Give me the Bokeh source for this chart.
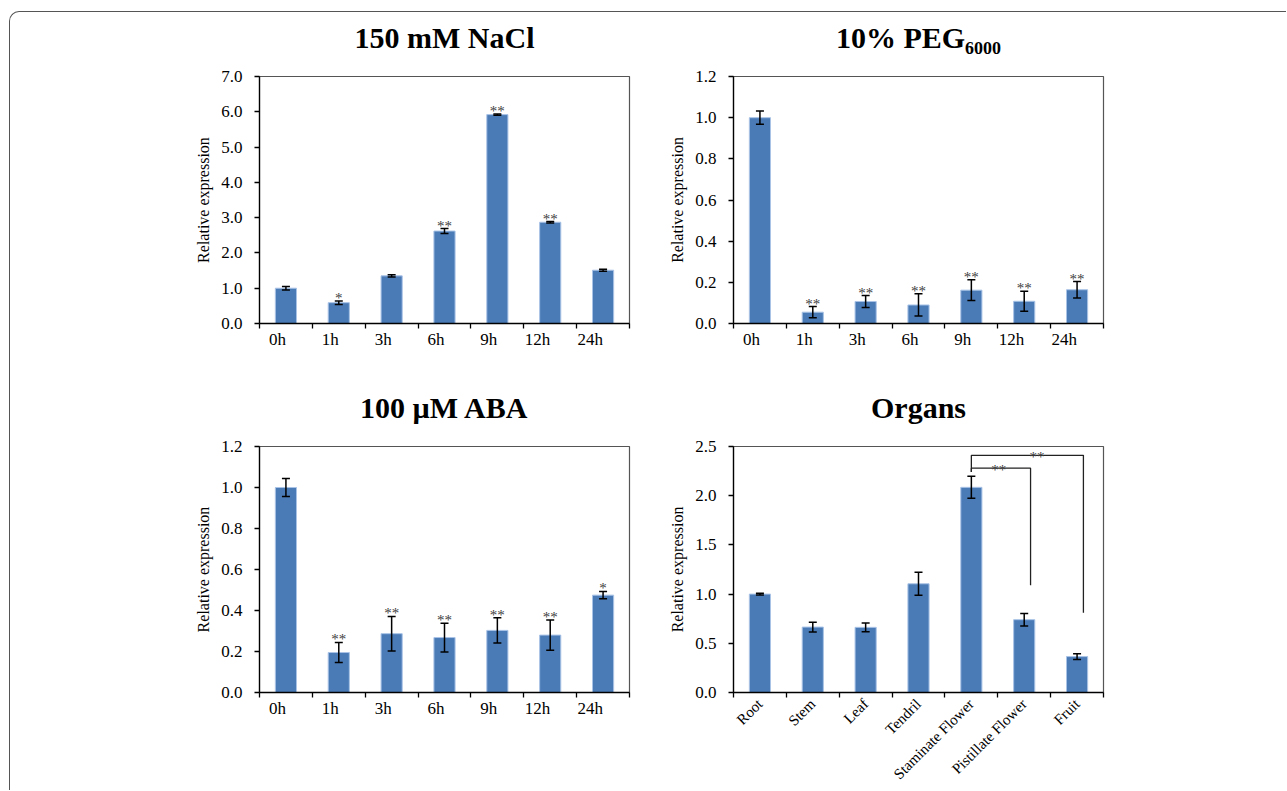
from math import pi
from bokeh.plotting import figure
from bokeh.models import (ColumnDataSource, Range1d, LinearAxis,
                          FixedTicker, NumeralTickFormatter, Whisker, TeeHead)
from bokeh.layouts import column, row
from bokeh.core.properties import value
from bokeh.embed import file_html
from bokeh.resources import INLINE

# ---------------- data ----------------
time_points = ["0h", "1h", "3h", "6h", "9h", "12h", "24h"]

nacl_mean = [1.00, 0.59, 1.35, 2.62, 5.92, 2.87, 1.51]
nacl_err = [0.05, 0.05, 0.03, 0.07, 0.02, 0.02, 0.03]
nacl_sig = ["", "*", "", "**", "**", "**", ""]
nacl_ticks = [0, 1, 2, 3, 4, 5, 6, 7]

peg_mean = [1.00, 0.055, 0.107, 0.090, 0.162, 0.108, 0.164]
peg_err = [0.032, 0.027, 0.029, 0.054, 0.050, 0.049, 0.040]
peg_sig = ["", "**", "**", "**", "**", "**", "**"]
peg_ticks = [0, 0.2, 0.4, 0.6, 0.8, 1.0, 1.2]

aba_mean = [1.00, 0.195, 0.287, 0.268, 0.303, 0.280, 0.475]
aba_err = [0.044, 0.049, 0.084, 0.070, 0.062, 0.074, 0.018]
aba_sig = ["", "**", "**", "**", "**", "**", "*"]
aba_ticks = [0, 0.2, 0.4, 0.6, 0.8, 1.0, 1.2]

organs = ["Root", "Stem", "Leaf", "Tendril", "Staminate Flower", "Pistillate Flower", "Fruit"]
organ_mean = [1.00, 0.665, 0.662, 1.105, 2.085, 0.740, 0.365]
organ_err = [0.008, 0.050, 0.045, 0.117, 0.112, 0.064, 0.029]
organ_sig = ["", "", "", "", "", "", ""]
organ_ticks = [0, 0.5, 1.0, 1.5, 2.0, 2.5]

# significance brackets in the organ panel
bracket_from = ["Staminate Flower", "Staminate Flower"]
bracket_to = ["Pistillate Flower", "Fruit"]
bracket_level = [2.28, 2.41]
bracket_from_end = [2.24, 2.24]
bracket_to_end = [1.09, 0.81]
bracket_text = ["**", "**"]
bracket_text_ref = ["Pistillate Flower", "Pistillate Flower"]
bracket_text_shift = [-0.48, 0.24]

# ---------------- style ----------------
SERIF = "Liberation Serif"
BAR = "#4a7bb7"
EDGE = "#a9c3e6"


def slot(cats, c):
    """centre of a category slot on the numeric x scale"""
    return cats.index(c) + 0.5


def make_panel(title, cats, means, errs, sigs, yticks, width, height,
               left, right, top, bottom, title_offset=0, label_angle=0.0,
               label_size="17px", label_standoff=11):
    n = len(cats)
    p = figure(x_range=Range1d(0, n), y_range=Range1d(yticks[0], yticks[-1]),
               width=width, height=height, x_axis_location=None,
               output_backend="svg", toolbar_location=None,
               min_border_left=left, min_border_right=right,
               min_border_top=top, min_border_bottom=bottom,
               title=title)
    p.title.text_font = SERIF
    p.title.text_font_size = "30px"
    p.title.text_font_style = "bold"
    p.title.text_color = "black"
    p.title.align = "center"
    p.title.standoff = 46
    p.title.offset = title_offset
    p.grid.visible = False
    p.outline_line_color = "#555555"
    p.outline_line_width = 1.2
    p.background_fill_color = "white"
    p.border_fill_color = None

    bounds = list(range(n + 1))
    centres = [slot(cats, c) for c in cats]
    tick_axis = LinearAxis(ticker=FixedTicker(ticks=bounds),
                           major_label_overrides={b: "" for b in bounds},
                           major_label_text_font_size="0px", major_label_standoff=0,
                           major_tick_in=0, major_tick_out=5,
                           minor_tick_line_color=None,
                           axis_line_color="black", axis_line_width=1.3,
                           major_tick_line_color="black", major_tick_line_width=1.3)
    label_axis = LinearAxis(ticker=FixedTicker(ticks=centres),
                            major_label_overrides={x: c for x, c in zip(centres, cats)},
                            axis_line_color=None, major_tick_line_color=None,
                            minor_tick_line_color=None,
                            major_tick_in=0, major_tick_out=0,
                            major_label_standoff=label_standoff,
                            major_label_text_font=SERIF,
                            major_label_text_font_size=label_size,
                            major_label_text_color="black",
                            major_label_orientation=label_angle)
    p.add_layout(tick_axis, "below")
    p.add_layout(label_axis, "below")

    ya = p.yaxis[0]
    ya.ticker = FixedTicker(ticks=yticks)
    ya.formatter = NumeralTickFormatter(format="0.0")
    ya.major_tick_in = 0
    ya.major_tick_out = 5
    ya.minor_tick_line_color = None
    ya.axis_line_color = "black"
    ya.axis_line_width = 1.3
    ya.major_tick_line_width = 1.3
    ya.major_label_text_font = SERIF
    ya.major_label_text_font_size = "17px"
    ya.major_label_text_color = "black"
    ya.major_label_standoff = 12
    ya.axis_label = "Relative expression"
    ya.axis_label_text_font = SERIF
    ya.axis_label_text_font_size = "16px"
    ya.axis_label_text_font_style = "normal"
    ya.axis_label_text_color = "black"
    ya.axis_label_standoff = 6

    src = ColumnDataSource(dict(
        x=centres, cat=cats, top=means,
        upper=[m + e for m, e in zip(means, errs)],
        lower=[m - e for m, e in zip(means, errs)],
        sig=sigs))
    p.vbar(x="x", top="top", bottom=0, width=0.4, source=src,
           fill_color=BAR, line_color=EDGE, line_width=1)
    p.add_layout(Whisker(source=src, base="x", upper="upper", lower="lower",
                         line_color="black", line_width=1.5, level="overlay",
                         upper_head=TeeHead(size=8, line_color="black", line_width=1.5),
                         lower_head=TeeHead(size=8, line_color="black", line_width=1.5)))
    p.text(x="x", y="upper", text="sig", source=src, text_align="center",
           text_baseline="alphabetic", y_offset=-3,
           text_font=value(SERIF), text_font_size="15px", text_color="#404040")
    return p


f1 = make_panel("150 mM NaCl", time_points, nacl_mean, nacl_err, nacl_sig, nacl_ticks,
                652, 370, 249, 33, 82, 41, title_offset=-6)
f2 = make_panel("10% PEG\u2086\u2080\u2080\u2080", time_points, peg_mean, peg_err, peg_sig,
                peg_ticks, 624, 370, 71, 183, 82, 41, title_offset=0)
f3 = make_panel("100 µM ABA", time_points, aba_mean, aba_err, aba_sig, aba_ticks,
                652, 426, 249, 33, 82, 97, title_offset=-6)
f4 = make_panel("Organs", organs, organ_mean, organ_err, organ_sig, organ_ticks,
                624, 426, 71, 183, 82, 98, title_offset=0,
                label_angle=pi / 4, label_size="15px", label_standoff=4)

# significance brackets
bx, by, sx, sy = [], [], [], []
for a, b, lvl, ea, eb, ref, sh in zip(bracket_from, bracket_to, bracket_level,
                                       bracket_from_end, bracket_to_end,
                                       bracket_text_ref, bracket_text_shift):
    xa = slot(organs, a)
    xb = slot(organs, b) + 0.12
    bx.append([xa, xa, xb, xb])
    by.append([ea, lvl, lvl, eb])
    sx.append(slot(organs, ref) + sh)
    sy.append(lvl)
f4.multi_line(xs=bx, ys=by, line_color="#222222", line_width=1.3)
f4.text(x=sx, y=sy, text=bracket_text, text_align="center",
        text_baseline="alphabetic", y_offset=2, text_font=value(SERIF),
        text_font_size="15px", text_color="#404040")

top_row = row(f1, f2, styles={"margin-top": "-18px"})
bottom_row = row(f3, f4)
layout = column(top_row, bottom_row,
                styles={"margin-left": "9px", "margin-top": "11px",
                        "border-top": "1.5px solid #555", "border-left": "1.5px solid #555",
                        "border-top-left-radius": "10px"})

open("out.html", "w").write(file_html(layout, INLINE))
